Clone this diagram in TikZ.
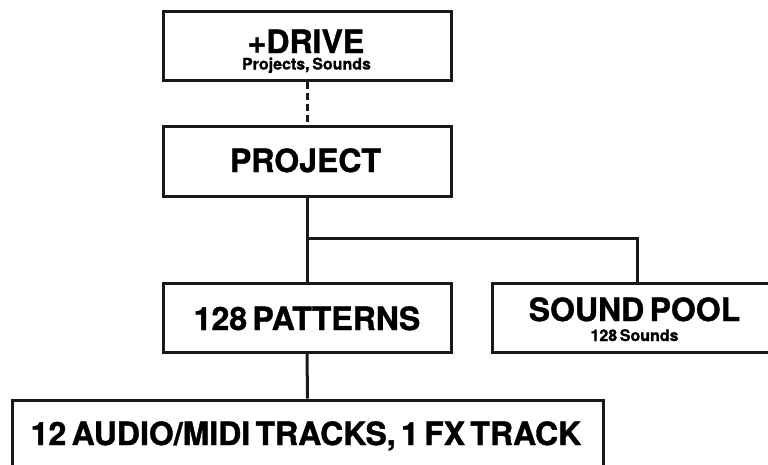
\documentclass[tikz,border=0pt]{standalone}
\usepackage{fontspec}
\setmainfont{TeX Gyre Heros}[BoldFeatures={FakeBold=1.2}, WordSpace=0.6]
\begin{document}
\begin{tikzpicture}[x=1pt,y=-1pt,
  box/.style={draw=black!90, line width=3pt, fill=white, inner sep=0pt},
  bigtxt/.style={anchor=base, inner sep=0pt, font=\bfseries\fontsize{32}{32}\selectfont},
  smalltxt/.style={anchor=base, inner sep=0pt, font=\bfseries\fontsize{16}{16}\selectfont},
  conn/.style={draw=black!90, line width=3pt},
]
\useasboundingbox (0,0) rectangle (768,464);
% boxes
\node[box, minimum width=288pt, minimum height=69pt] (drive) at (307,45.5) {};
\node[box, minimum width=288pt, minimum height=70pt] (project) at (307,161) {};
\node[box, minimum width=288pt, minimum height=69pt] (patterns) at (307,317.5) {};
\node[box, minimum width=290pt, minimum height=69pt] (pool) at (637,317.5) {};
\node[box, minimum width=591pt, minimum height=70pt] (tracks) at (307.5,435) {};
% texts
\node[bigtxt] (drivet) at (306,53) {+DRIVE};
\node[smalltxt] (drives) at (306.5,69.5) {Projects, Sounds};
\node[bigtxt] (projectt) at (305.5,172) {PROJECT};
\node[bigtxt] (patternst) at (307,330) {128 PATTERNS};
\node[bigtxt] (poolt) at (634.5,321) {SOUND POOL};
\node[smalltxt] (pools) at (634.5,341) {128 Sounds};
\node[bigtxt] (trackst) at (306,445) {12 AUDIO/MIDI TRACKS, 1 FX TRACK};
% connectors
\coordinate (j) at (307,238);
\draw[conn, dash pattern=on 7pt off 4pt] (drive.south) -- (project.north);
\draw[conn] (project.south) -- (patterns.north);
\draw[conn] (j) -| (pool.north);
\draw[conn] (patterns.south) -- (tracks.north);
\end{tikzpicture}
\end{document}
